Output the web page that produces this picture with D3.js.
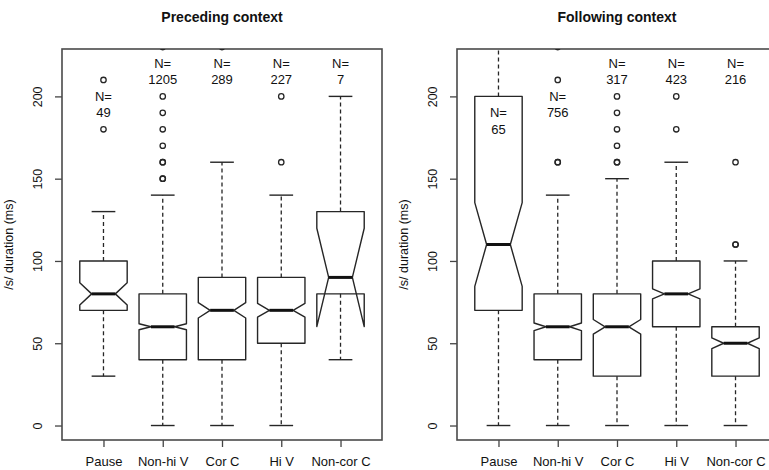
<!DOCTYPE html>
<html>
<head>
<meta charset="utf-8">
<script src="https://cdn.jsdelivr.net/npm/d3@7"></script>
<style>
  body { margin: 0; background: #fff; }
  svg { font-family: "Liberation Sans", Arial, sans-serif; }
  .titulo { font-weight: bold; font-size: 14px; text-anchor: middle; fill: #111; }
  .nlab { font-size: 13px; text-anchor: middle; fill: #111; }
  .tick text { font-size: 12.5px; fill: #111; }
</style>
</head>
<body>
<div id="graf"></div>
<script>
// categorias y datos (ms)
const categorias = ["Pause", "Non-hi V", "Cor C", "Hi V", "Non-cor C"]
const yTicks = [0, 50, 100, 150, 200]

// Preceding context
const precN = [49, 1205, 289, 227, 7]
const precMin = [30, 0, 0, 0, 40]
const precQ1 = [70, 40, 40, 50, 80]
const precMed = [80, 60, 70, 70, 90]
const precQ3 = [100, 80, 90, 90, 130]
const precMax = [130, 140, 160, 140, 200]
const precOut = [[180, 210], [150, 150, 160, 160, 170, 180, 190, 200, 230], [230], [160, 200], []]
const precLabelY = [200, 220, 220, 220, 220]

// Following context
const follN = [65, 756, 317, 423, 216]
const follMin = [0, 0, 0, 0, 0]
const follQ1 = [70, 40, 30, 60, 30]
const follMed = [110, 60, 60, 80, 50]
const follQ3 = [200, 80, 80, 100, 60]
const follMax = [300, 140, 150, 160, 100]
const follOut = [[], [160, 160, 210, 230], [160, 160, 170, 180, 190, 200], [180, 200], [110, 110, 160]]
const follLabelY = [190, 200, 220, 220, 220]

const anchoTotal = 769
const altoTotal = 470
const svg = d3.select("#graf").append("svg").attr("width", anchoTotal).attr("height", altoTotal)

const alto = { top: 49, bottom: 440 }
const y = d3.scaleLinear().domain([-8.8, 228.8]).range([alto.bottom, alto.top])

const tinta = "#262626"

const panel = (id, left, titulo, n, mn, q1, med, q3, mx, outs, labY) => {
    const x = d3.scaleLinear().domain([0.3, 5.7]).range([left, left + 320])
    const wid = (x(1.4) - x(1)) // media anchura de caja
    const g = svg.append("g")

    svg.append("clipPath").attr("id", id).append("rect")
        .attr("x", left).attr("y", alto.top).attr("width", 320).attr("height", alto.bottom - alto.top)

    // titulo
    g.append("text").attr("class", "titulo").attr("x", left + 160).attr("y", 22).text(titulo)

    // ejes
    const ay = g.append("g").attr("transform", `translate(${left},0)`)
        .call(d3.axisLeft(y).tickValues(yTicks).tickSize(7).tickPadding(0))
    ay.select(".domain").remove()
    ay.selectAll("line").attr("stroke", "#444").attr("stroke-width", 1.3)
    ay.selectAll("text").attr("transform", "rotate(-90)").attr("text-anchor", "middle")
        .attr("x", 0).attr("y", -24).attr("dy", 0).attr("dominant-baseline", "central")

    const ax = g.append("g").attr("transform", `translate(0,${alto.bottom})`)
        .call(d3.axisBottom(x).tickValues([1, 2, 3, 4, 5]).tickFormat((d, i) => categorias[i]).tickSize(7).tickPadding(10))
    ax.select(".domain").remove()
    ax.selectAll("line").attr("stroke", "#444").attr("stroke-width", 1.3)
    ax.selectAll("text").style("font-size", "13px")

    g.append("text").attr("transform", `translate(${left - 49},${(alto.top + alto.bottom) / 2}) rotate(-90)`)
        .attr("text-anchor", "middle").style("font-size", "12.5px").attr("fill", "#111")
        .text("/s/ duration (ms)")

    // marco
    g.append("rect").attr("x", left).attr("y", alto.top).attr("width", 320).attr("height", alto.bottom - alto.top)
        .attr("fill", "none").attr("stroke", "#4a4a4a").attr("stroke-width", 1.6)

    const cajas = g.append("g").attr("clip-path", `url(#${id})`)
    categorias.forEach((c, i) => {
        const cx = x(i + 1)
        const iqr = q3[i] - q1[i]
        const nLo = med[i] - 1.58 * iqr / Math.sqrt(n[i])
        const nHi = med[i] + 1.58 * iqr / Math.sqrt(n[i])
        const caja = cajas.append("g")

        // bigotes
        caja.append("line").attr("x1", cx).attr("x2", cx).attr("y1", y(q3[i])).attr("y2", y(mx[i]))
            .attr("stroke", tinta).attr("stroke-width", 1.3).attr("stroke-dasharray", "4,3")
        caja.append("line").attr("x1", cx).attr("x2", cx).attr("y1", y(q1[i])).attr("y2", y(mn[i]))
            .attr("stroke", tinta).attr("stroke-width", 1.3).attr("stroke-dasharray", "4,3")
        ;[mn[i], mx[i]].forEach(v => {
            caja.append("line").attr("x1", cx - wid / 2).attr("x2", cx + wid / 2).attr("y1", y(v)).attr("y2", y(v))
                .attr("stroke", tinta).attr("stroke-width", 1.4)
        })

        // caja con muesca
        const pts = [
            [cx - wid, q1[i]], [cx - wid, nLo], [cx - wid / 2, med[i]], [cx - wid, nHi], [cx - wid, q3[i]],
            [cx + wid, q3[i]], [cx + wid, nHi], [cx + wid / 2, med[i]], [cx + wid, nLo], [cx + wid, q1[i]]
        ]
        caja.append("path").attr("d", d3.line().x(p => p[0]).y(p => y(p[1]))(pts) + "Z")
            .attr("fill", "none").attr("stroke", tinta).attr("stroke-width", 1.4).attr("stroke-linejoin", "round")
        caja.append("line").attr("x1", cx - wid / 2).attr("x2", cx + wid / 2).attr("y1", y(med[i])).attr("y2", y(med[i]))
            .attr("stroke", "#111").attr("stroke-width", 3)

        // atipicos
        caja.selectAll("circle").data(outs[i]).enter().append("circle")
            .attr("cx", cx).attr("cy", d => y(d)).attr("r", 2.7)
            .attr("fill", "none").attr("stroke", tinta).attr("stroke-width", 1.3)

        // N
        g.append("text").attr("class", "nlab").attr("x", cx).attr("y", y(labY[i])).attr("dy", "0.35em").text("N=")
        g.append("text").attr("class", "nlab").attr("x", cx).attr("y", y(labY[i] - 10)).attr("dy", "0.35em").text(n[i])
    })
}

panel("clipPrec", 62, "Preceding context", precN, precMin, precQ1, precMed, precQ3, precMax, precOut, precLabelY)
panel("clipFoll", 457, "Following context", follN, follMin, follQ1, follMed, follQ3, follMax, follOut, follLabelY)
</script>
</body>
</html>
